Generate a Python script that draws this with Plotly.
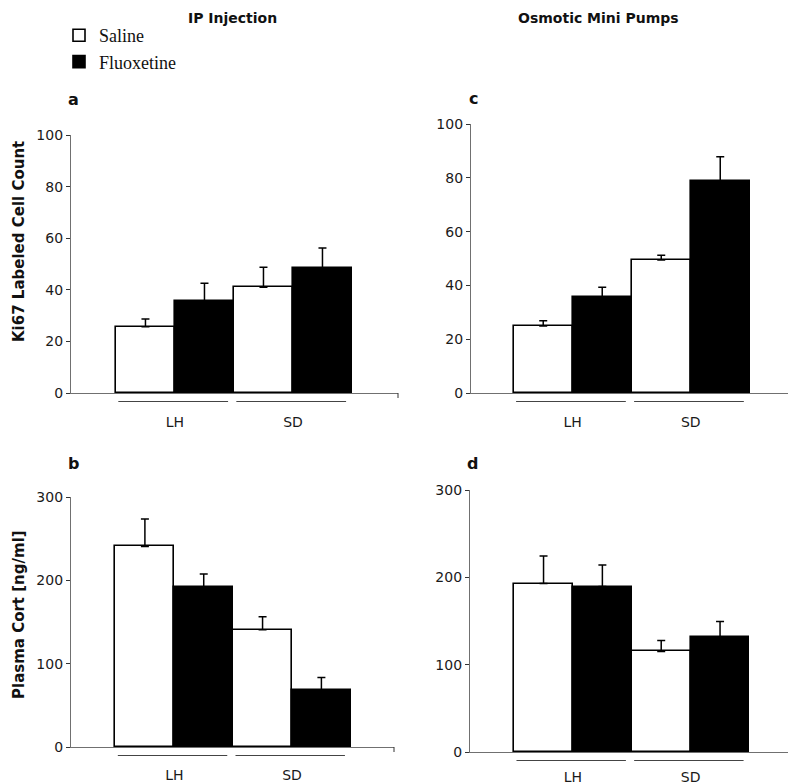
import plotly.graph_objects as go

# ---------------- data ----------------
groups = ["LH", "SD"]
series_names = ["Saline", "Fluoxetine"]

ki67_ip_saline = [25.7, 41.0]
ki67_ip_saline_err = [3.0, 7.7]
ki67_ip_fluox = [35.6, 48.5]
ki67_ip_fluox_err = [6.9, 7.7]

ki67_pump_saline = [24.9, 49.4]
ki67_pump_saline_err = [2.0, 1.8]
ki67_pump_fluox = [35.6, 78.9]
ki67_pump_fluox_err = [3.7, 8.9]

cort_ip_saline = [240.7, 140.8]
cort_ip_saline_err = [32.9, 15.6]
cort_ip_fluox = [192.4, 68.4]
cort_ip_fluox_err = [15.2, 15.1]

cort_pump_saline = [192.8, 115.1]
cort_pump_saline_err = [31.7, 12.5]
cort_pump_fluox = [189.4, 131.5]
cort_pump_fluox_err = [24.8, 17.9]

ki67_ticks = [0, 20, 40, 60, 80, 100]
cort_ticks = [0, 100, 200, 300]

column_titles = ["IP Injection", "Osmotic Mini Pumps"]
panel_letters = ["a", "c", "b", "d"]
y_titles = ["Ki67 Labeled Cell Count", "Plasma Cort [ng/ml]"]

# ---------------- layout helpers ----------------
# page body adds an 8px margin, so figure pixels = page pixels - 8
OFF = 8
W, H = 788, 776
AXIS_GRAY = "#707070"
TICK_FONT = dict(family="DejaVu Sans", size=14, color="#1a1a1a")


def px_x(p):
    return (p - OFF) / W


def px_y(p):
    return 1 - (p - OFF) / H


def xd(p0, p1):
    return [px_x(p0), px_x(p1)]


def yd(top, bottom):
    return [px_y(bottom), px_y(top)]


panels = [
    dict(s="", sal=ki67_ip_saline, sale=ki67_ip_saline_err, flu=ki67_ip_fluox, flue=ki67_ip_fluox_err,
         xpx=(71, 398), ypx=(135, 393), xr=[-0.881, 1.89], yr=[0, 100], ticks=ki67_ticks, std=16),
    dict(s="2", sal=ki67_pump_saline, sale=ki67_pump_saline_err, flu=ki67_pump_fluox, flue=ki67_pump_fluox_err,
         xpx=(471, 794), ypx=(124, 393), xr=[-0.862, 1.875], yr=[0, 100], ticks=ki67_ticks, std=16),
    dict(s="3", sal=cort_ip_saline, sale=cort_ip_saline_err, flu=cort_ip_fluox, flue=cort_ip_fluox_err,
         xpx=(71, 394), ypx=(497, 747), xr=[-0.878, 1.867], yr=[0, 300], ticks=cort_ticks, std=15),
    dict(s="4", sal=cort_pump_saline, sale=cort_pump_saline_err, flu=cort_pump_fluox, flue=cort_pump_fluox_err,
         xpx=(470, 795), ypx=(490, 752), xr=[-0.875, 1.887], yr=[0, 300], ticks=cort_ticks, std=12),
]

fig = go.Figure()
layout_axes = {}
shapes = []

for i, p in enumerate(panels):
    xa = "x" + p["s"]
    ya = "y" + p["s"]
    show = i == 0
    fig.add_trace(go.Bar(
        x=groups, y=p["sal"], name=series_names[0], xaxis=xa, yaxis=ya,
        marker=dict(color="white", line=dict(color="black", width=1.6)),
        error_y=dict(type="data", array=p["sale"], arrayminus=[0] * len(groups), symmetric=False,
                     color="black", thickness=1.5, width=4),
        showlegend=show, legendgroup="sal", offsetgroup="sal",
    ))
    fig.add_trace(go.Bar(
        x=groups, y=p["flu"], name=series_names[1], xaxis=xa, yaxis=ya,
        marker=dict(color="black", line=dict(color="black", width=1.6)),
        error_y=dict(type="data", array=p["flue"], arrayminus=[0] * len(groups), symmetric=False,
                     color="black", thickness=1.5, width=4),
        showlegend=show, legendgroup="flu", offsetgroup="flu",
    ))
    layout_axes["xaxis" + p["s"]] = dict(
        domain=xd(*p["xpx"]), range=p["xr"], anchor=ya, type="category",
        showline=True, linecolor=AXIS_GRAY, linewidth=1.2, ticks="", showgrid=False,
        zeroline=False, tickfont=TICK_FONT, ticklabelstandoff=p["std"], fixedrange=True,
        automargin=False,
    )
    layout_axes["yaxis" + p["s"]] = dict(
        domain=yd(*p["ypx"]), range=p["yr"], anchor=xa,
        showline=True, linecolor=AXIS_GRAY, linewidth=1.2, ticks="outside", ticklen=4,
        tickcolor="#333333", tickwidth=1, tickvals=p["ticks"], showgrid=False, zeroline=False,
        tickfont=TICK_FONT, fixedrange=True, automargin=False,
    )
    h_px = p["ypx"][1] - p["ypx"][0]
    yline = -8.5 / h_px
    for gi, g in enumerate(groups):
        shapes.append(dict(type="line", xref=xa, yref=ya + " domain",
                           x0=gi - 0.48, x1=gi + 0.45, y0=yline, y1=yline,
                           line=dict(color="#444444", width=1.2)))
    shapes.append(dict(type="line", xref=xa + " domain", yref=ya + " domain",
                       x0=1, x1=1, y0=0, y1=-5 / h_px,
                       line=dict(color="#333333", width=1)))

annotations = []
for t, xc in zip(column_titles, [232, 598]):
    annotations.append(dict(text="<b>" + t + "</b>", x=px_x(xc), y=px_y(8), xref="paper", yref="paper",
                            xanchor="center", yanchor="top", showarrow=False,
                            font=dict(family="DejaVu Sans", size=14, color="#111111")))
for letter, (lx, ly) in zip(panel_letters, [(66, 99), (467, 98), (66, 463), (465, 463)]):
    annotations.append(dict(text="<b>" + letter + "</b>", x=px_x(lx), y=px_y(ly), xref="paper", yref="paper",
                            xanchor="left", yanchor="middle", showarrow=False,
                            font=dict(family="DejaVu Sans", size=16, color="#111111")))
for t, (tx, ty) in zip(y_titles, [(8, 242), (8, 615)]):
    annotations.append(dict(text="<b>" + t + "</b>", x=px_x(tx), y=px_y(ty), xref="paper", yref="paper",
                            xanchor="left", yanchor="middle", showarrow=False, textangle=-90,
                            font=dict(family="DejaVu Sans", size=15, color="#111111")))

fig.update_layout(
    width=W, height=H, margin=dict(l=0, r=0, t=0, b=0, autoexpand=False),
    paper_bgcolor="white", plot_bgcolor="white",
    barmode="group", bargap=0, bargroupgap=0,
    showlegend=True,
    legend=dict(x=px_x(59), y=px_y(17), xanchor="left", yanchor="top",
                font=dict(family="Liberation Serif", size=18, color="#111111"),
                bgcolor="rgba(0,0,0,0)", tracegroupgap=0, itemclick=False, itemdoubleclick=False),
    shapes=shapes, annotations=annotations,
    **layout_axes,
)

fig.write_html("out.html")
